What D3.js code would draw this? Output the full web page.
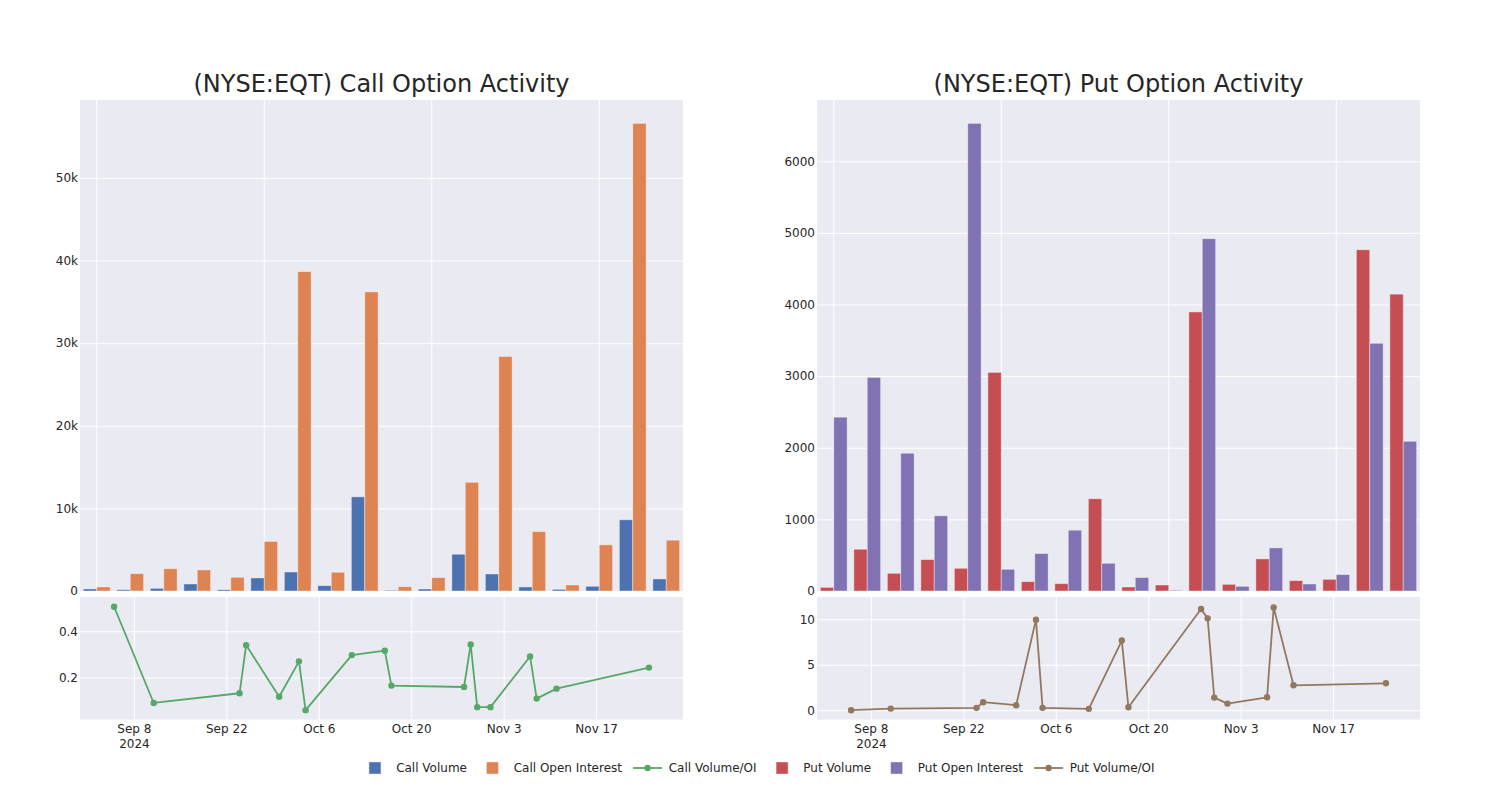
<!DOCTYPE html>
<html><head><meta charset="utf-8">
<script src="https://cdn.jsdelivr.net/npm/d3@7"></script>
<style>
body{margin:0;background:#fff}
svg{display:block}
text{font-family:"DejaVu Sans",sans-serif;fill:#262626}
</style>
</head><body>
<svg id="c" width="1500" height="800"></svg>
<script>
// ---------------- DATA ----------------
const dates = ["2024-09-05","2024-09-11","2024-09-24","2024-09-25","2024-09-30","2024-10-03","2024-10-04","2024-10-11","2024-10-16","2024-10-17","2024-10-28","2024-10-29","2024-10-30","2024-11-01","2024-11-07","2024-11-08","2024-11-11","2024-11-25"];
const callVolume = [250,160,320,850,160,1580,2300,650,11400,80,240,4450,2060,490,200,570,8620,1460];
const callOpenInterest = [490,2100,2700,2550,1660,6000,38660,2270,36200,530,1620,13160,28380,7200,730,5590,56600,6150];
const callVolumeOI = [0.506,0.09,0.132,0.34,0.117,0.27,0.059,0.297,0.316,0.165,0.159,0.343,0.072,0.072,0.291,0.109,0.152,0.243];
const putVolume = [51,583,247,439,317,3052,131,103,1288,56,84,3896,93,448,145,163,4764,4144];
const putOpenInterest = [2427,2982,1923,1050,6528,303,523,849,387,187,9,4918,65,602,98,229,3458,2090];
const putVolumeOI = [0.0,0.18,0.26,0.88,0.55,9.96,0.26,0.15,7.66,0.33,11.13,10.1,1.39,0.73,1.42,11.3,2.74,2.96];

const dateTicks = ["2024-09-08","2024-09-22","2024-10-06","2024-10-20","2024-11-03","2024-11-17"];
const dateTickLabels = ["Sep 8","Sep 22","Oct 6","Oct 20","Nov 3","Nov 17"];
const callBarTicks = [0,10000,20000,30000,40000,50000];
const callBarTickLabels = ["0","10k","20k","30k","40k","50k"];
const putBarTicks = [0,1000,2000,3000,4000,5000,6000];
const putBarTickLabels = ["0","1000","2000","3000","4000","5000","6000"];
const callRatioTicks = [0.2,0.4];
const callRatioTickLabels = ["0.2","0.4"];
const putRatioTicks = [0,5,10];
const putRatioTickLabels = ["0","5","10"];
const callRatioLimits = [0.0186,0.548];
const putRatioLimits = [-1.02,12.45];
const dateLimits = ["2024-08-30T20:05:00Z","2024-11-30T03:50:00Z"];

const titles = ["(NYSE:EQT) Call Option Activity","(NYSE:EQT) Put Option Activity"];
const legendLabels = ["Call Volume","Call Open Interest","Call Volume/OI","Put Volume","Put Open Interest","Put Volume/OI"];

// ---------------- STYLE ----------------
const C = {blue:"#4C72B0",orange:"#DD8452",green:"#55A868",red:"#C44E52",purple:"#8172B3",brown:"#937860",bg:"#EAEAF2"};
const parse = d3.utcParse("%Y-%m-%d");
const svg = d3.select("#c");

function panel(o){
  const g = svg.append("g");
  const x0=o.x0, x1=o.x1, w=x1-x0;
  const tTop=100, tBot=591, bTop=597, bBot=719.5;

  // title
  g.append("text").attr("x",(x0+x1)/2).attr("y",92).attr("text-anchor","middle")
    .style("font-size","24px").text(o.title);

  // ----- top bar panel -----
  g.append("rect").attr("x",x0).attr("y",tTop).attr("width",w).attr("height",tBot-tTop).attr("fill",C.bg);
  const xb = d3.scaleBand().domain(dates).range([x0,x1]).paddingInner(0.2).paddingOuter(0.1);
  const xs = d3.scaleBand().domain([0,1]).range([0,xb.bandwidth()]);
  const yb = d3.scaleLinear().domain([0,d3.max(o.s1.concat(o.s2))*1.05]).range([tBot,tTop]);

  // grid
  g.append("g").attr("transform",`translate(${x0},0)`)
    .call(d3.axisLeft(yb).tickValues(o.barTicks).tickSize(-w).tickFormat(""))
    .call(a=>{a.select(".domain").remove();a.selectAll("line").attr("stroke","#fff").attr("stroke-width",1);});
  const vgrid = dates.filter((d,i)=>i%5===0);
  g.append("g").attr("transform",`translate(0,${tBot})`)
    .call(d3.axisBottom(xb).tickValues(vgrid).tickSize(-(tBot-tTop)).tickFormat(""))
    .call(a=>{a.select(".domain").remove();a.selectAll("line").attr("stroke","#fff").attr("stroke-width",1);});

  [o.s1,o.s2].forEach((s,k)=>{
    g.append("g").selectAll("rect").data(s).join("rect")
      .attr("x",(d,i)=>xb(dates[i])+xs(k)).attr("width",xs.bandwidth())
      .attr("y",d=>yb(d)).attr("height",d=>tBot-yb(d))
      .attr("fill",o.colors[k]).attr("stroke","#fff").attr("stroke-opacity",0.45).attr("stroke-width",0.9);
  });

  g.append("g").attr("transform",`translate(${x0},0)`)
    .call(d3.axisLeft(yb).tickValues(o.barTicks).tickSize(0).tickPadding(2).tickFormat((d,i)=>o.barTickLabels[i]))
    .call(a=>{a.select(".domain").remove();a.selectAll("text").style("font-size","12px").attr("fill","#262626").style("font-family","DejaVu Sans");});

  // ----- bottom ratio panel -----
  g.append("rect").attr("x",x0).attr("y",bTop).attr("width",w).attr("height",bBot-bTop).attr("fill",C.bg);
  const xt = d3.scaleUtc().domain(dateLimits.map(d=>new Date(d))).range([x0,x1]);
  const yr = d3.scaleLinear().domain(o.ratioLimits).range([bBot,bTop]);
  const tickD = dateTicks.map(parse);

  g.append("g").attr("transform",`translate(${x0},0)`)
    .call(d3.axisLeft(yr).tickValues(o.ratioTicks).tickSize(-w).tickFormat(""))
    .call(a=>{a.select(".domain").remove();a.selectAll("line").attr("stroke","#fff").attr("stroke-width",1);});
  g.append("g").attr("transform",`translate(0,${bBot})`)
    .call(d3.axisBottom(xt).tickValues(tickD).tickSize(-(bBot-bTop)).tickFormat(""))
    .call(a=>{a.select(".domain").remove();a.selectAll("line").attr("stroke","#fff").attr("stroke-width",1);});

  const pts = o.ratio.map((v,i)=>[parse(dates[i]),v]);
  g.append("path").datum(pts)
    .attr("d",d3.line().x(d=>xt(d[0])).y(d=>yr(d[1])))
    .attr("fill","none").attr("stroke",o.lineColor).attr("stroke-width",1.8).attr("stroke-linejoin","round");
  g.append("g").selectAll("circle").data(pts).join("circle")
    .attr("cx",d=>xt(d[0])).attr("cy",d=>yr(d[1])).attr("r",3.2).attr("fill",o.lineColor);

  g.append("g").attr("transform",`translate(${x0},0)`)
    .call(d3.axisLeft(yr).tickValues(o.ratioTicks).tickSize(0).tickPadding(2).tickFormat((d,i)=>o.ratioTickLabels[i]))
    .call(a=>{a.select(".domain").remove();a.selectAll("text").style("font-size","12px").attr("fill","#262626").style("font-family","DejaVu Sans");});

  const xa = g.append("g").attr("transform",`translate(0,${bBot})`)
    .call(d3.axisBottom(xt).tickValues(tickD).tickSize(0).tickPadding(5).tickFormat((d,i)=>dateTickLabels[i]));
  xa.select(".domain").remove();
  xa.selectAll("text").style("font-size","12px").attr("fill","#262626").style("font-family","DejaVu Sans");
  const first = xa.select(".tick text");
  first.append("tspan").attr("x",0).attr("dy","1.25em").text("2024");
}

panel({x0:80,x1:683,title:titles[0],s1:callVolume,s2:callOpenInterest,colors:[C.blue,C.orange],
  barTicks:callBarTicks,barTickLabels:callBarTickLabels,ratio:callVolumeOI,ratioLimits:callRatioLimits,
  ratioTicks:callRatioTicks,ratioTickLabels:callRatioTickLabels,lineColor:C.green});
panel({x0:817,x1:1420,title:titles[1],s1:putVolume,s2:putOpenInterest,colors:[C.red,C.purple],
  barTicks:putBarTicks,barTickLabels:putBarTickLabels,ratio:putVolumeOI,ratioLimits:putRatioLimits,
  ratioTicks:putRatioTicks,ratioTickLabels:putRatioTickLabels,lineColor:C.brown});

// ---------------- LEGEND ----------------
const legendItems = [
  {type:"patch",color:C.blue},{type:"patch",color:C.orange},{type:"line",color:C.green},
  {type:"patch",color:C.red},{type:"patch",color:C.purple},{type:"line",color:C.brown}
];
const lg = svg.append("g");
const ly = 768;
const handleW = 29, textPad = 6.7, colSp = 11;
const items = legendItems.map((it,i)=>{
  const gi = lg.append("g");
  const t = gi.append("text").attr("y",ly+4.3).style("font-size","12px").text(legendLabels[i]);
  return {gi,t,it,tw:t.node().getComputedTextLength()};
});
const total = d3.sum(items,d=>handleW+textPad+d.tw) + colSp*(items.length-1);
let cx = 757.5 - total/2;
items.forEach(d=>{
  if(d.it.type==="patch"){
    d.gi.append("rect").attr("x",cx+handleW/2-6).attr("y",ly-6).attr("width",12).attr("height",12)
      .attr("fill",d.it.color).attr("stroke","#fff").attr("stroke-opacity",0.45).attr("stroke-width",0.9);
  } else {
    d.gi.append("line").attr("x1",cx).attr("x2",cx+handleW).attr("y1",ly).attr("y2",ly)
      .attr("stroke",d.it.color).attr("stroke-width",1.8);
    d.gi.append("circle").attr("cx",cx+handleW/2).attr("cy",ly).attr("r",3.2).attr("fill",d.it.color);
  }
  d.t.attr("x",cx+handleW+textPad);
  cx += handleW+textPad+d.tw+colSp;
});
</script>
</body></html>
